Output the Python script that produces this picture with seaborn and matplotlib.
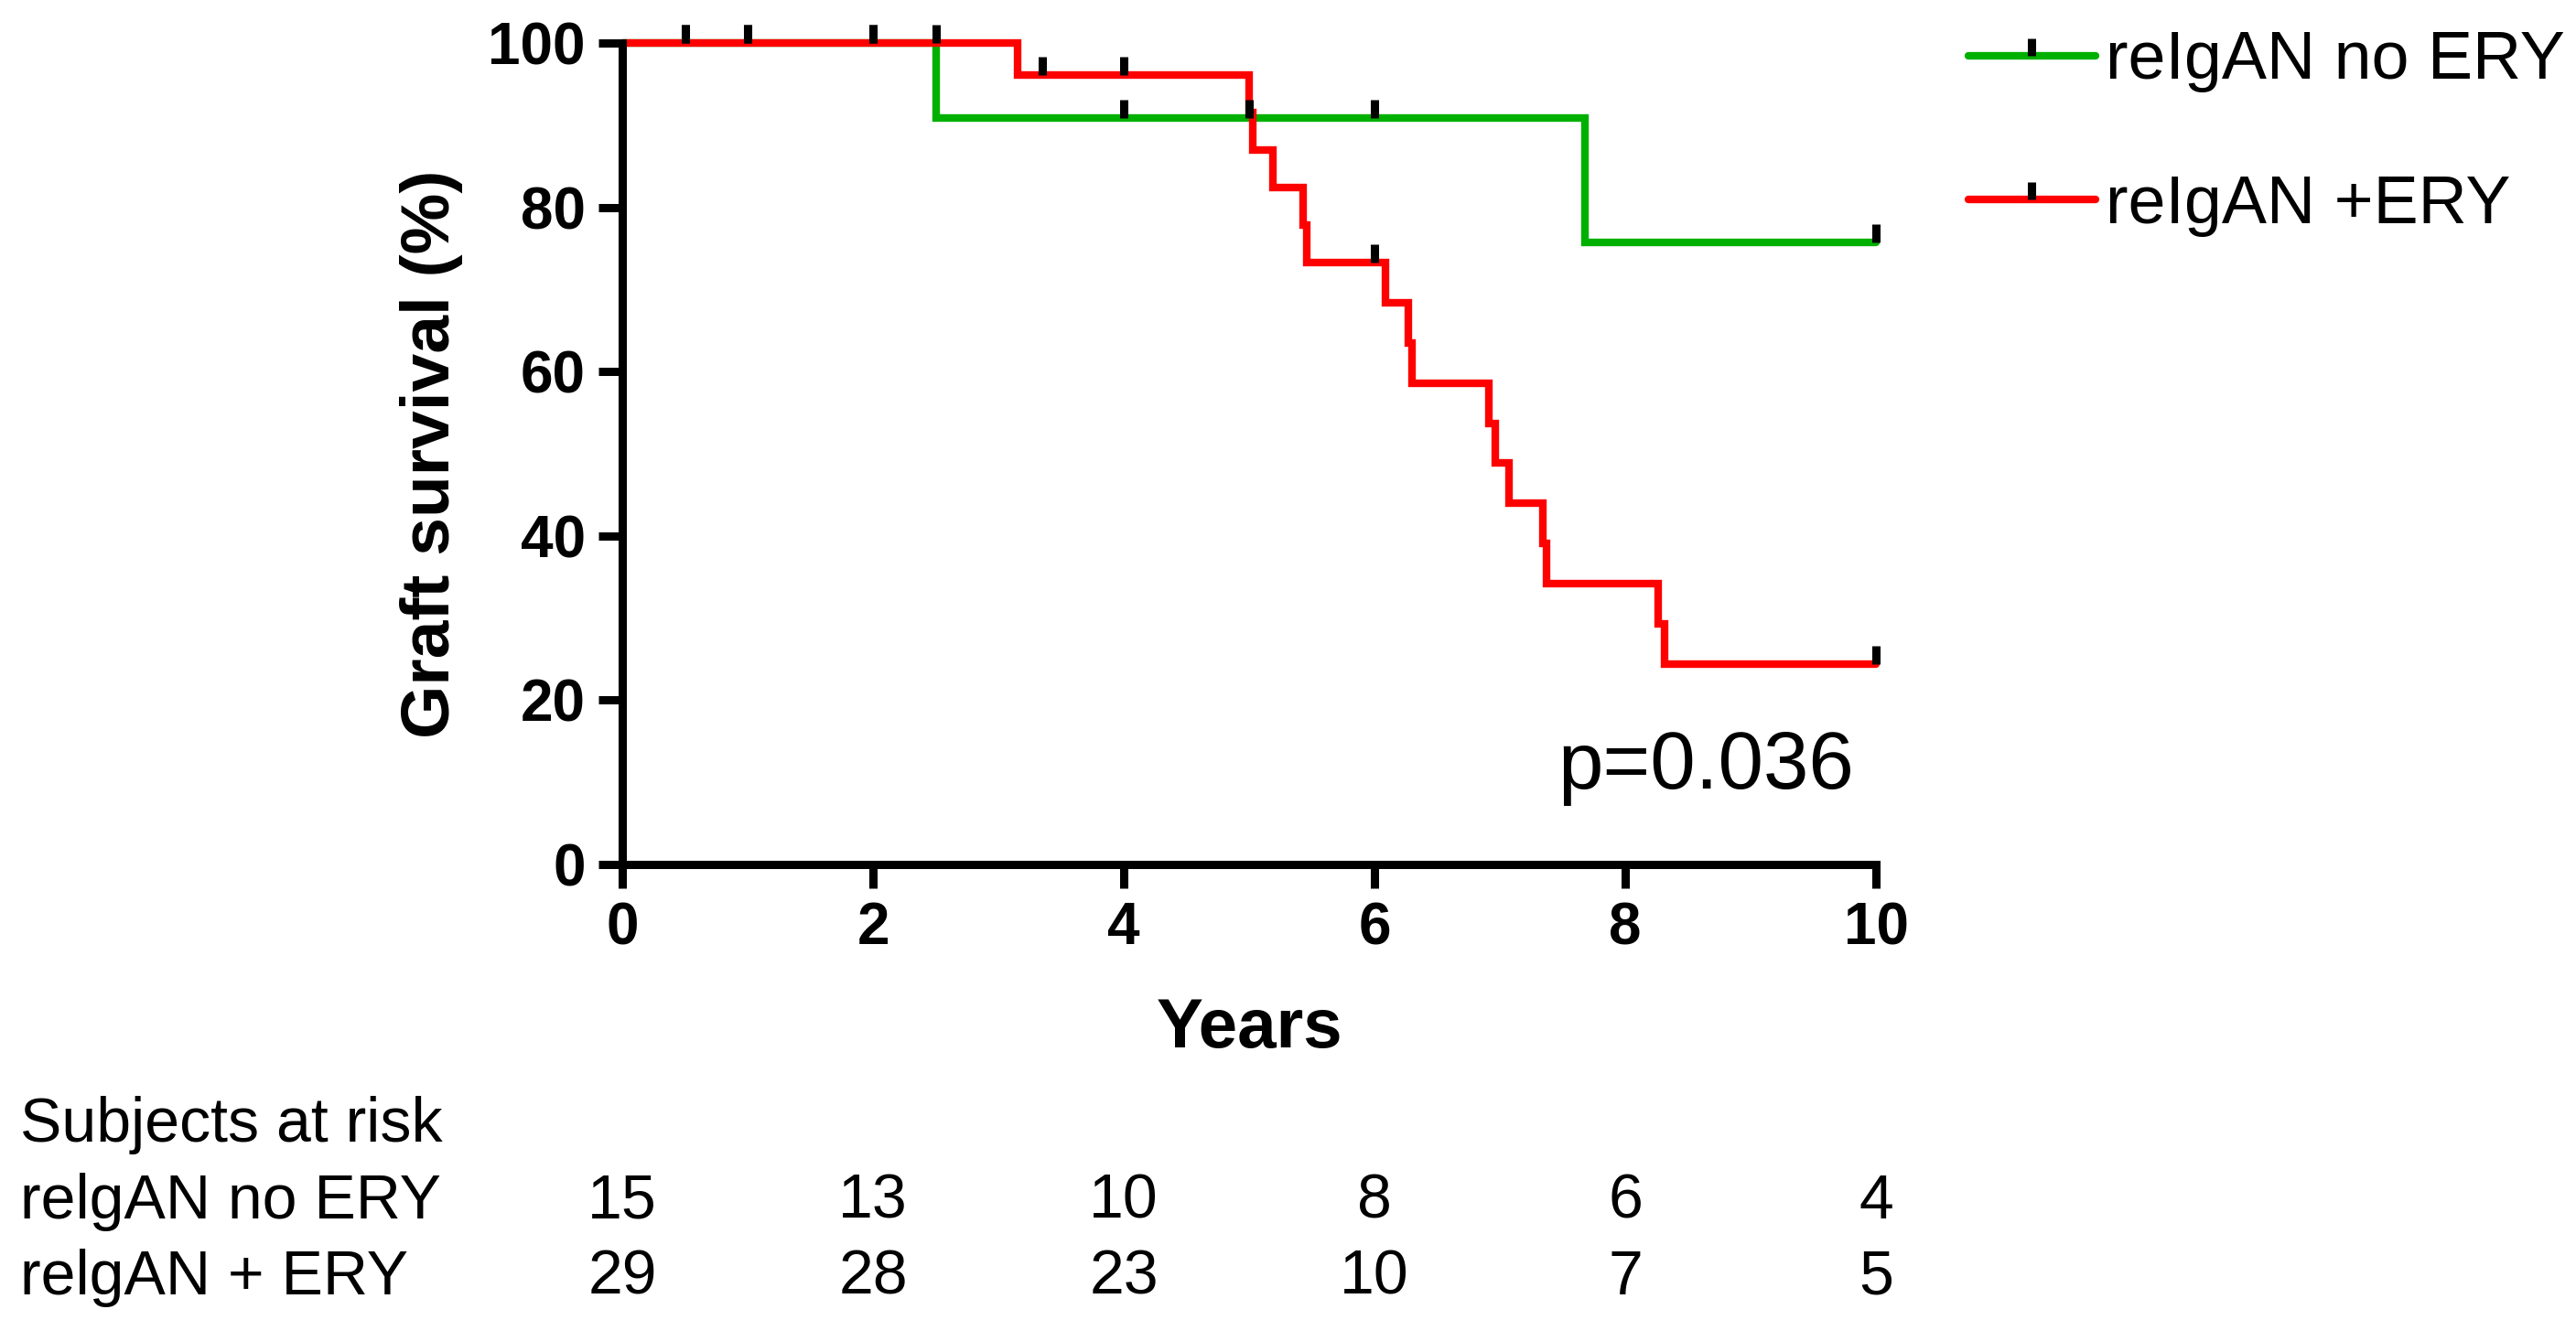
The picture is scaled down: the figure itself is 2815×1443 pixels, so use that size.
import numpy as np
import pandas as pd
import matplotlib
matplotlib.use('Agg')
import matplotlib.pyplot as plt
from matplotlib.lines import Line2D
import matplotlib.transforms as mtransforms
import seaborn as sns

# %%
# Kaplan-Meier curves (years, graft survival %)
noery_t = [0, 2.5, 7.68, 10]
noery_s = [100, 90.91, 75.76, 75.76]
noery_cens = [0.5, 1.0, 2.0, 4.0, 5.0, 6.0, 10.0]

ery_t = [0, 3.15, 5.00, 5.03, 5.19, 5.43, 5.46, 6.09, 6.27, 6.30,
         6.91, 6.96, 7.07, 7.34, 7.37, 8.26, 8.31, 10]
ery_s = [100, 96.15, 91.57, 87.00, 82.42, 77.83, 73.25, 68.37, 63.48, 58.60,
         53.72, 48.84, 43.95, 39.07, 34.18, 29.30, 24.42, 24.42]
ery_cens = [0.5, 1.0, 2.0, 2.5, 3.35, 4.0, 6.0, 10.0]

legend_labels = ['reIgAN no ERY', 'reIgAN +ERY']
risk_rows = ['relgAN no ERY', 'relgAN + ERY']
risk_times = [0, 2, 4, 6, 8, 10]
risk_noery = [15, 13, 10, 8, 6, 4]
risk_ery = [29, 28, 23, 10, 7, 5]

green = '#00b000'
red = '#ff0000'

# %%
sns.set_style('ticks')
plt.rcParams['font.family'] = ['Liberation Sans', 'DejaVu Sans']
plt.rcParams.update({'text.color': 'black', 'axes.labelcolor': 'black',
                     'xtick.color': 'black', 'ytick.color': 'black',
                     'axes.edgecolor': 'black'})


def step_value(t, times, surv):
    # survival level at time t (right-continuous step)
    idx = np.searchsorted(times, t, side='right') - 1
    return surv[idx]


df_curve = pd.concat([
    pd.DataFrame({'t': noery_t, 's': noery_s, 'grp': legend_labels[0]}),
    pd.DataFrame({'t': ery_t, 's': ery_s, 'grp': legend_labels[1]}),
])
df_cens = pd.concat([
    pd.DataFrame({'t': noery_cens,
                  's': [step_value(c, noery_t, noery_s) for c in noery_cens]}),
    pd.DataFrame({'t': ery_cens,
                  's': [step_value(c, ery_t, ery_s) for c in ery_cens]}),
])

fig = plt.figure(figsize=(28.15, 14.43), dpi=100)
ax = fig.add_axes([0.2416, 0.3451, 0.4867, 0.6223])

sns.lineplot(data=df_curve, x='t', y='s', hue='grp',
             palette={legend_labels[0]: green, legend_labels[1]: red},
             drawstyle='steps-post', linewidth=6, legend=False, ax=ax,
             estimator=None, sort=True)
sns.scatterplot(data=df_cens, x='t', y='s', marker=2, s=210, color='black',
                linewidth=6.5, legend=False, ax=ax, zorder=5)

for ln in ax.lines:
    ln.set_clip_on(False)
    ln.set_solid_joinstyle('miter')
for coll in ax.collections:
    coll.set_clip_on(False)

ax.set_xlim(0, 10)
ax.set_ylim(0, 100)
ax.set_xticks([0, 2, 4, 6, 8, 10])
ax.set_yticks([0, 20, 40, 60, 80, 100])
sns.despine(ax=ax)
for sp in ['left', 'bottom']:
    ax.spines[sp].set_linewidth(6.5)
ax.tick_params(axis='both', length=19, width=6.5, pad=10, labelsize=46)
for lab in ax.get_xticklabels() + ax.get_yticklabels():
    lab.set_fontweight('bold')

ax.set_xlabel('Years', fontsize=55, fontweight='bold', labelpad=32)
ax.set_ylabel('Graft survival (%)', fontsize=54, fontweight='bold', labelpad=20)

ax.text(7.46, 9.3, 'p=0.036', fontsize=64, ha='left', va='baseline')

handles = [Line2D([], [], color=c, lw=6, marker=2, markersize=14,
                  markeredgewidth=6.5, markeredgecolor='black')
           for c in (green, red)]
leg = fig.legend(handles, legend_labels, loc='upper left',
                 bbox_to_anchor=(0.7535, 0.998), frameon=False, fontsize=53,
                 handlelength=1.9, handletextpad=0.14, labelspacing=1.2,
                 numpoints=1, borderaxespad=0)

# %%
# subjects at risk table
trans = mtransforms.blended_transform_factory(ax.transData, fig.transFigure)
fig.text(0.0078, 0.1476, 'Subjects at risk', fontsize=49, va='center')
for row_y, name, vals in zip([0.0894, 0.0319], risk_rows, [risk_noery, risk_ery]):
    fig.text(0.0078, row_y, name, fontsize=49, va='center')
    for t, v in zip(risk_times, vals):
        ax.text(t, row_y, str(v), transform=trans, fontsize=49,
                ha='center', va='center')

fig.savefig('out.png', dpi=100)
